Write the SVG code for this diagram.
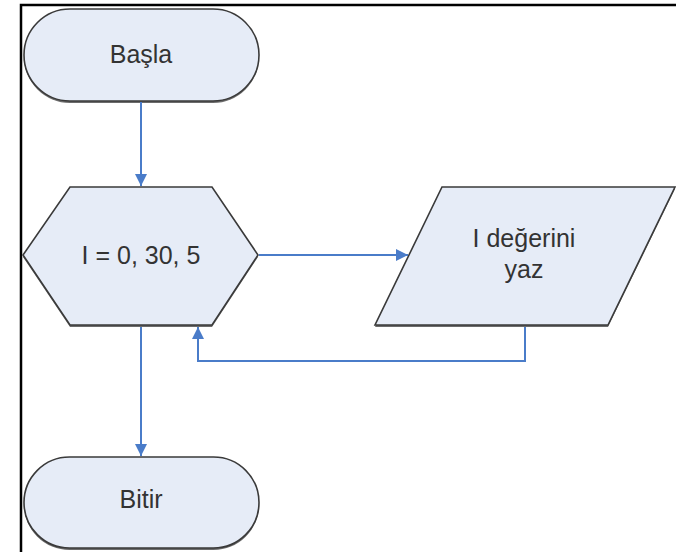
<svg xmlns="http://www.w3.org/2000/svg" width="676" height="552" viewBox="0 0 676 552">
  <style>
    .shape { fill: #e6ecf7; stroke: #3a3a3a; stroke-width: 1.6; }
    .shadow { fill: #6b6b6b; }
    .label { font-family: "Liberation Sans", Arial, sans-serif; font-size: 25px; fill: #333; text-anchor: middle; }
    .conn { fill: none; stroke: #4a7cc9; stroke-width: 2; }
  </style>
  <defs>
    <marker id="arrow" viewBox="0 0 12 12" refX="12" refY="6" markerWidth="12" markerHeight="12" markerUnits="userSpaceOnUse" orient="auto">
      <path d="M0,0 L12,6 L0,12 Z" fill="#4a7cc9"/>
    </marker>
  </defs>
  <rect x="0" y="0" width="676" height="552" fill="#ffffff"/>
  <!-- frame -->
  <path d="M21,552 L21,5 L676,5" fill="none" stroke="#000" stroke-width="2.5"/>

  <g id="start">
    <rect class="shadow" x="24" y="11" width="235" height="92" rx="46" ry="46"/>
    <rect class="shape" x="24" y="9" width="235" height="92" rx="46" ry="46"/>
    <text class="label" x="141" y="63">Başla</text>
  </g>

  <g id="loop">
    <polygon class="shadow" points="70,189 212,189 258,257 212,327 70,327 23,257"/>
    <polygon class="shape" points="70,187 212,187 258,255 212,325 70,325 23,255"/>
    <text class="label" x="141" y="264">I = 0, 30, 5</text>
  </g>

  <g id="output">
    <polygon class="shadow" points="442,189 675,189 608,327 375,327"/>
    <polygon class="shape" points="442,187 675,187 608,325 375,325"/>
    <text class="label" x="524" y="247">I değerini</text>
    <text class="label" x="524" y="278">yaz</text>
  </g>

  <g id="end">
    <rect class="shadow" x="24" y="459" width="235" height="91" rx="45.5" ry="45.5"/>
    <rect class="shape" x="24" y="457" width="235" height="91" rx="45.5" ry="45.5"/>
    <text class="label" x="141" y="508">Bitir</text>
  </g>

  <g id="connectors">
    <line class="conn" x1="141" y1="102" x2="141" y2="186" marker-end="url(#arrow)"/>
    <line class="conn" x1="259" y1="255" x2="408" y2="255" marker-end="url(#arrow)"/>
    <polyline class="conn" points="525,327 525,361 198,361 198,327" marker-end="url(#arrow)"/>
    <line class="conn" x1="141" y1="327" x2="141" y2="456" marker-end="url(#arrow)"/>
  </g>
</svg>
